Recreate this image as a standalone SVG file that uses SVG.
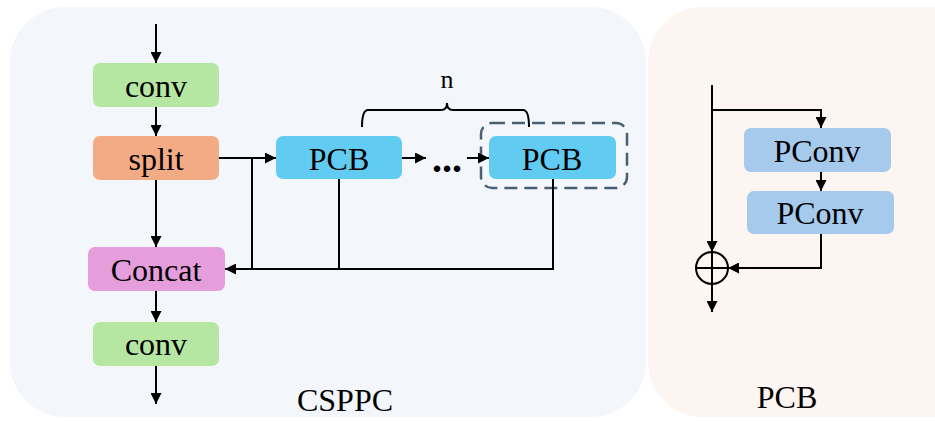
<svg xmlns="http://www.w3.org/2000/svg" width="935" height="421" viewBox="0 0 935 421">
  <style>
    .lbl { font-family: "Liberation Serif", "Times New Roman", serif; font-size: 32px; fill: #000; text-anchor: middle; }
    .wire { fill: none; stroke: #000; stroke-width: 2; }
    .arrow { fill: none; stroke: #000; stroke-width: 2; marker-end: url(#head); }
  </style>
  <defs>
    <marker id="head" viewBox="0 0 10 10" refX="10" refY="5" markerWidth="11" markerHeight="11" markerUnits="userSpaceOnUse" orient="auto">
      <path d="M0,0 L10,5 L0,10 Z" fill="#000"/>
    </marker>
  </defs>

  <!-- panels -->
  <g id="panel-csppc">
    <rect x="10" y="7" width="636" height="410" rx="55" fill="#f3f6fb"/>
    <text class="lbl" x="345" y="411">CSPPC</text>
  </g>
  <g id="panel-pcb">
    <rect x="648" y="7" width="340" height="410" rx="55" fill="#fdf5f2"/>
    <text class="lbl" x="787" y="408">PCB</text>
  </g>

  <!-- CSPPC nodes -->
  <g id="conv-in">
    <rect x="93" y="63" width="126" height="44" rx="7" fill="#b5e6a2"/>
    <text class="lbl" x="156" y="97">conv</text>
  </g>
  <g id="split">
    <rect x="93" y="136" width="126" height="44" rx="7" fill="#f2ab84"/>
    <text class="lbl" x="156" y="170">split</text>
  </g>
  <g id="pcb-1">
    <rect x="276" y="136" width="126" height="43" rx="7" fill="#62cbf2"/>
    <text class="lbl" x="339" y="170">PCB</text>
  </g>
  <g id="pcb-n">
    <rect x="481" y="123" width="146" height="65" rx="11" fill="none" stroke="#4a6070" stroke-width="2.5" stroke-dasharray="13,7"/>
    <rect x="489" y="136" width="127" height="43" rx="7" fill="#62cbf2"/>
    <text class="lbl" x="552" y="170">PCB</text>
  </g>
  <g id="repeat-n">
    <path class="wire" d="M362,127 Q362,110 368,110 L441,110 Q447,110 447,103 Q447,110 453,110 L523,110 Q529,110 529,127"/>
    <text class="lbl" x="447" y="88" style="font-size:26px">n</text>
  </g>
  <g id="ellipsis">
    <text class="lbl" x="447" y="172" style="font-size:40px;font-weight:bold">...</text>
  </g>
  <g id="concat">
    <rect x="88" y="247" width="137" height="44" rx="7" fill="#e59ddc"/>
    <text class="lbl" x="156" y="281">Concat</text>
  </g>
  <g id="conv-out">
    <rect x="93" y="322" width="126" height="44" rx="7" fill="#b5e6a2"/>
    <text class="lbl" x="156" y="355">conv</text>
  </g>

  <!-- PCB nodes -->
  <g id="pconv-1">
    <rect x="744" y="128" width="147" height="44" rx="7" fill="#a6caec"/>
    <text class="lbl" x="817" y="162">PConv</text>
  </g>
  <g id="pconv-2">
    <rect x="747" y="191" width="147" height="43" rx="7" fill="#a6caec"/>
    <text class="lbl" x="820" y="224">PConv</text>
  </g>
  <g id="add">
    <circle cx="712" cy="268" r="16" fill="none" stroke="#000" stroke-width="2"/>
    <path class="wire" d="M696,268 H728 M712,252 V284"/>
  </g>

  <!-- connectors -->
  <g id="connectors">
    <path class="arrow" d="M156,24 V63"/>
    <path class="arrow" d="M156,107 V136"/>
    <path class="arrow" d="M156,180 V247"/>
    <path class="arrow" d="M156,291 V322"/>
    <path class="arrow" d="M156,366 V404"/>
    <path class="arrow" d="M219,158 H276"/>
    <path class="arrow" d="M402,158 H426"/>
    <path class="arrow" d="M467,158 H489"/>
    <path class="wire" d="M252,158 V269"/>
    <path class="wire" d="M339,179 V269"/>
    <path class="arrow" d="M553,179 V269 H225"/>

    <path class="arrow" d="M712,85 V252"/>
    <path class="arrow" d="M712,110 H821 V128"/>
    <path class="arrow" d="M821,172 V191"/>
    <path class="arrow" d="M821,234 V268 H728"/>
    <path class="arrow" d="M712,284 V312"/>
  </g>
</svg>
